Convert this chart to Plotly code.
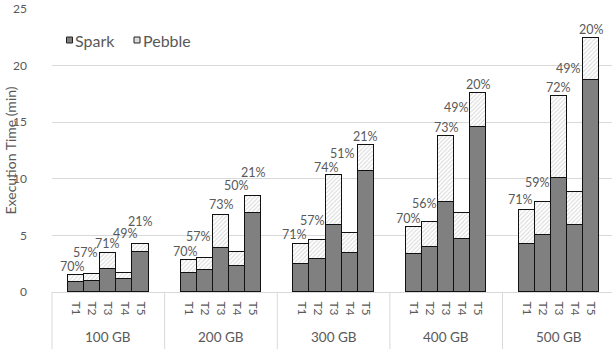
import plotly.graph_objects as go

# ---- data -------------------------------------------------------------
sizes = ["100 GB", "200 GB", "300 GB", "400 GB", "500 GB"]
tasks = ["T1", "T2", "T3", "T4", "T5"]

# Spark execution time (min) per dataset size, tasks T1..T5
spark_100 = [0.90, 1.00, 2.00, 1.15, 3.50]
spark_200 = [1.68, 1.93, 3.92, 2.33, 7.00]
spark_300 = [2.50, 2.95, 5.95, 3.48, 10.70]
spark_400 = [3.40, 3.98, 7.95, 4.70, 14.62]
spark_500 = [4.22, 5.00, 10.05, 5.90, 18.70]

# Pebble overhead relative to Spark (%)
overhead_100 = [70, 57, 71, 49, 21]
overhead_200 = [70, 57, 73, 50, 21]
overhead_300 = [71, 57, 74, 51, 21]
overhead_400 = [70, 56, 73, 49, 20]
overhead_500 = [71, 59, 72, 49, 20]

spark = [spark_100, spark_200, spark_300, spark_400, spark_500]
overhead = [overhead_100, overhead_200, overhead_300, overhead_400, overhead_500]

# ---- label placement (pixel nudges, dx / dy) --------------------------
label_nudge = [
    [(-4, 2), (-7, 15), (-1, 3), (1, 33), (0, 16)],
    [(-3, 2), (-6, 15), (1, 4), (-1, 60), (0, 17)],
    [(-7, 3), (-5, 13), (-7, 1), (-7, 73), (0, 2)],
    [(-6, 2), (-6, 12), (0, 2), (-6, 99), (0, 2)],
    [(-6, 4), (-5, 13), (0, 2), (-6, 117), (0, 2)],
]

# ---- geometry ---------------------------------------------------------
FONT = "Lato"
GREY_TXT = "#595959"
GRID = "#d9d9d9"
W, H = 612, 349
ML, MR, MT, MB = 52, 0, 9, 57
PW, PH = W - ML - MR, H - MT - MB
SLOT = 7                 # x units per dataset group (5 bars + gaps)
UNIT_PX = 16.09          # pixels per x unit
XMAX = PW / UNIT_PX

xs, spark_vals, extra_vals, ticktext = [], [], [], []
for g in range(len(sizes)):
    for k in range(len(tasks)):
        xs.append(g * SLOT + 1.5 + k)
        spark_vals.append(spark[g][k])
        extra_vals.append(spark[g][k] * overhead[g][k] / 100.0)
        ticktext.append(tasks[k])

fig = go.Figure()
fig.add_trace(go.Bar(
    x=xs, y=spark_vals, width=1.0, name="Spark",
    marker=dict(color="#808080", line=dict(color="#111111", width=1.3)),
    showlegend=False,
))
fig.add_trace(go.Bar(
    x=xs, y=extra_vals, width=1.0, name="Pebble",
    marker=dict(color="white", line=dict(color="#111111", width=1.3),
                pattern=dict(shape="/", fgcolor="#b4b4b4", bgcolor="white",
                             size=3, solidity=0.35)),
    showlegend=False,
))

annotations = []
# percentage labels above each stacked bar
i = 0
for g in range(len(sizes)):
    for k in range(len(tasks)):
        dx, dy = label_nudge[g][k]
        annotations.append(dict(
            x=xs[i], y=spark_vals[i] + extra_vals[i], xref="x", yref="y",
            text=f"{overhead[g][k]}%", showarrow=False,
            xanchor="center", yanchor="bottom", xshift=dx, yshift=dy - 3,
            font=dict(family=FONT, size=12.5, color=GREY_TXT),
        ))
        i += 1

# dataset size labels under the task ticks
for g, s in enumerate(sizes):
    annotations.append(dict(
        x=g * SLOT + SLOT / 2, y=-(337 - (MT + PH)) / PH, xref="x", yref="paper",
        text=s, showarrow=False, xanchor="center", yanchor="middle",
        font=dict(family=FONT, size=13.5, color=GREY_TXT),
    ))

# y-axis title
annotations.append(dict(
    x=-(ML - 10) / PW, y=0.5, xref="paper", yref="paper",
    text="Execution Time (min)", textangle=-90, showarrow=False,
    xanchor="center", yanchor="middle",
    font=dict(family=FONT, size=14, color=GREY_TXT),
))

shapes = []
# group separators below the axis
for g in range(len(sizes)):
    xp = g * SLOT / XMAX
    shapes.append(dict(type="line", xref="paper", yref="paper",
                       x0=xp, x1=xp, y0=0, y1=-MB / PH,
                       line=dict(color=GRID, width=1)))

# legend swatches and labels
def px_to_paper(px, py):
    return (px - ML) / PW, (MT + PH - py) / PH

legend_items = [("Spark", 66.5, dict(fillcolor="#808080")),
                ("Pebble", 134, dict(fillcolor="#dcdcdc"))]
for label, lx, fill in legend_items:
    x0, y0 = px_to_paper(lx, 43)
    x1, y1 = px_to_paper(lx + 6, 37)
    shapes.append(dict(type="rect", xref="paper", yref="paper",
                       x0=x0, x1=x1, y0=y0, y1=y1,
                       line=dict(color="#222222", width=1), **fill))
    tx, ty = px_to_paper(lx + 6.5, 40)
    annotations.append(dict(x=tx, y=ty, xref="paper", yref="paper",
                            text=label, showarrow=False,
                            xanchor="left", yanchor="middle",
                            font=dict(family=FONT, size=16, color=GREY_TXT)))

fig.update_layout(
    width=W, height=H,
    margin=dict(l=ML, r=MR, t=MT, b=MB, autoexpand=False),
    barmode="stack", bargap=0,
    plot_bgcolor="white", paper_bgcolor="white",
    font=dict(family=FONT, color=GREY_TXT),
    annotations=annotations, shapes=shapes,
    xaxis=dict(
        range=[0, XMAX], tickmode="array", tickvals=xs, ticktext=ticktext,
        tickangle=90, showgrid=False, zeroline=False,
        showline=True, linecolor=GRID, linewidth=1, ticks="",
        tickfont=dict(family=FONT, size=12, color=GREY_TXT),
        ticklabelstandoff=6,
    ),
    yaxis=dict(
        range=[0, 25], dtick=5, showgrid=True, gridcolor=GRID, gridwidth=1,
        zeroline=False, showline=False, ticks="",
        tickfont=dict(family=FONT, size=12, color=GREY_TXT),
        ticklabelstandoff=24,
    ),
)

fig.write_html("out.html")
